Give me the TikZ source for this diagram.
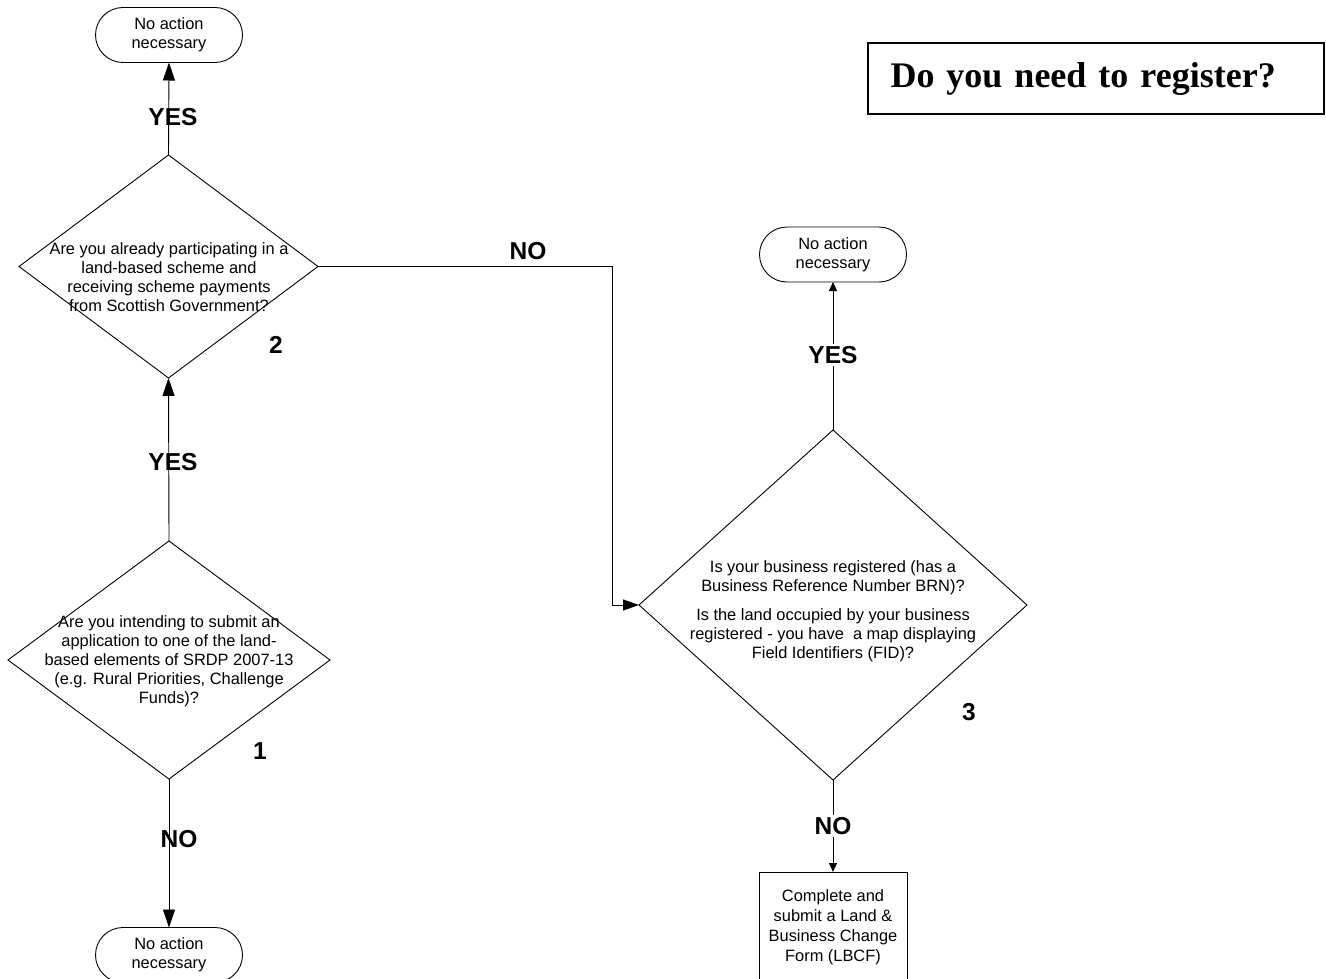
\documentclass[tikz,border=0pt]{standalone}
\usepackage{fontspec}
\setmainfont{Liberation Sans}
\newfontfamily\titlefont{Liberation Serif}
\usetikzlibrary{shapes.geometric,shapes.misc,arrows.meta}
\begin{document}
\begin{tikzpicture}[x=1pt,y=-1pt,
  line width=0.9pt,
  txt/.style={font=\fontsize{16.4}{19}\selectfont, align=center, inner sep=0},
  dec/.style={diamond, draw, inner sep=0, outer sep=0},
  term/.style={rounded rectangle, draw, minimum width=147, minimum height=55, inner sep=0, outer sep=0,
    font=\fontsize{16.4}{19}\selectfont, align=center},
  procbox/.style={rectangle, draw, minimum width=148, minimum height=120, inner sep=0, outer sep=0,
    font=\fontsize{16.4}{20}\selectfont, align=center},
  lbl/.style={font=\fontsize{24.5}{28}\selectfont\bfseries, inner sep=0},
  lblw/.style={lbl, fill=white, inner sep=2pt},
  bigarr/.style={-{Triangle[length=18pt,width=12pt]}},
  midarr/.style={-{Triangle[length=16pt,width=11pt]}},
  smallarr/.style={-{Triangle[length=9pt,width=8pt]}},
]
\useasboundingbox (0,0) rectangle (1326,979);
\clip (0,0) rectangle (1326,979);

% title
\node[draw, line width=2pt, minimum width=456, minimum height=71, inner xsep=22, text width=411,
  align=left, font=\titlefont\fontsize{36}{40}\selectfont\bfseries] (title) at (1096,78.5)
  {Do you need to register?};

% terminals
\node[term] (t1) at (169,35) {No action\\necessary};
\node[term] (t2) at (169,955) {No action\\necessary};
\node[term] (t3) at (833,254.5) {No action\\necessary};

% process box
\node[procbox, anchor=north] (pb) at (833,872) {};
\node[txt, font=\fontsize{16.4}{20}\selectfont] (pbt) at (833,927) {Complete and\\submit a Land \&\\Business Change\\Form (LBCF)};

% decisions
\node[dec, minimum width=299, minimum height=223] (d2) at (168.5,266.5) {};
\node[dec, minimum width=322, minimum height=238] (d1) at (169,660) {};
\node[dec, minimum width=388, minimum height=350] (d3) at (833,605) {};

\node[txt] (q2) at (169,277.5) {Are you already participating in a\\land-based scheme and\\receiving scheme payments\\from Scottish Government?};
\node[txt] (q1) at (169,661) {Are you intending to submit an\\application to one of the land-\\based elements of SRDP 2007-13\\(e.g. Rural Priorities, Challenge\\Funds)?};
\node[txt] (q3) at (833,611.5) {Is your business registered (has a\\Business Reference Number BRN)?\\[10pt]Is the land occupied by your business\\registered - you have\ \ a map displaying\\Field Identifiers (FID)?};

% numbers
\node[lbl] (n1) at (260,751) {1};
\node[lbl] (n2) at (276,345) {2};
\node[lbl] (n3) at (969,712) {3};

% connectors
\coordinate (c1) at (612,266.5);
\draw[bigarr] (d2.north) -- (t1.south);
\draw[bigarr] (d1.north) -- (d2.south);
\draw[bigarr] (d1.south) -- (t2.north);
\draw[midarr] (d2.east) -- (c1) |- (d3.west);
\draw[smallarr] (d3.north) -- (t3.south);
\draw[smallarr] (d3.south) -- (pb.north);

% connector labels
\node[lbl] (yes1) at (173,117) {YES};
\node[lbl] (yes2) at (173,462) {YES};
\node[lbl] (no1) at (179,839) {NO};
\node[lbl] (no2) at (528,251) {NO};
\node[lblw] (yes3) at (833,355) {YES};
\node[lblw] (no3) at (833,826) {NO};
\end{tikzpicture}
\end{document}
